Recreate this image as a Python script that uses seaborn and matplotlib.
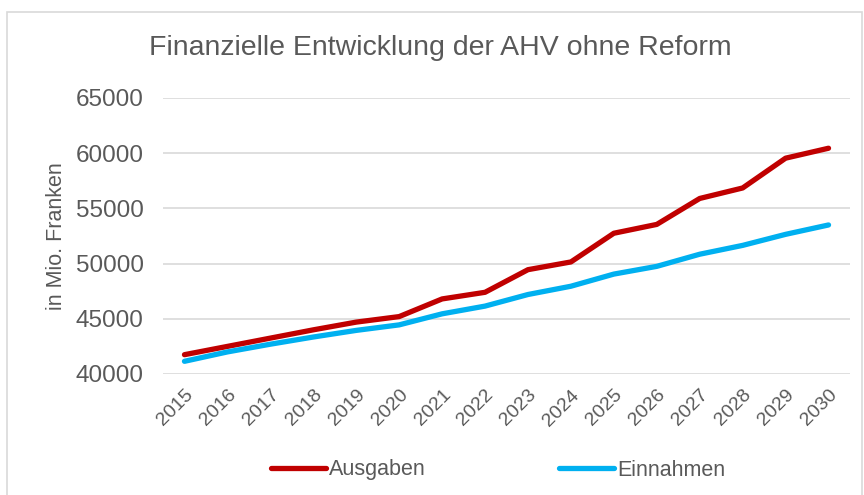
import numpy as np
import pandas as pd
import matplotlib
matplotlib.use("Agg")
import matplotlib.pyplot as plt
from matplotlib.patches import Rectangle
import seaborn as sns

# Data
years = [str(y) for y in range(2015, 2031)]
ausgaben = [41750, 42500, 43250, 44000, 44700, 45200, 46800, 47400,
            49450, 50150, 52750, 53550, 55900, 56850, 59550, 60450]
einnahmen = [41150, 42000, 42700, 43350, 43950, 44450, 45450, 46150,
             47200, 47950, 49050, 49750, 50850, 51650, 52650, 53500]
series_names = ["Ausgaben", "Einnahmen"]
yticks = [40000, 45000, 50000, 55000, 60000, 65000]

df = pd.DataFrame({
    "Jahr": years * 2,
    "Wert": ausgaben + einnahmen,
    "Serie": [series_names[0]] * len(years) + [series_names[1]] * len(years),
})

sns.set_style("white")
plt.rcParams['font.family'] = ['Liberation Sans', 'DejaVu Sans']
grey = "#595959"

fig = plt.figure(figsize=(8.64, 4.95), dpi=100)
ax = fig.add_axes([163 / 864, 1 - 374 / 495, (850 - 163) / 864, (374 - 98) / 495])

# outer chart border
fig.patches.append(Rectangle((7 / 864, -0.05), 855 / 864, 1 - 12 / 495 + 0.05,
                             transform=fig.transFigure, fill=False,
                             edgecolor="#d9d9d9", linewidth=1.2))

sns.lineplot(data=df, x="Jahr", y="Wert", hue="Serie", ax=ax,
             palette={"Ausgaben": "#C00000", "Einnahmen": "#00B0F0"},
             linewidth=3.8, solid_capstyle="round", sort=False, legend=False)

ax.set_xlim(-0.5, len(years) - 0.5)
ax.set_ylim(40000, 65000)
ax.set_yticks(yticks)
ax.yaxis.grid(True, color="#d9d9d9", linewidth=1.2)
ax.set_axisbelow(True)
for s in ax.spines.values():
    s.set_visible(False)
ax.tick_params(axis="y", labelsize=17.5, labelcolor=grey, length=0, pad=14)
ax.tick_params(axis="x", labelsize=14, labelcolor=grey, length=0, pad=9)
plt.setp(ax.get_xticklabels(), rotation=45, ha="right", rotation_mode="anchor")
ax.set_xlabel("")
ax.set_ylabel("in Mio. Franken", fontsize=15.5, color=grey, labelpad=6)

fig.text(440 / 864, 1 - 48 / 495, "Finanzielle Entwicklung der AHV ohne Reform",
         ha="center", va="center", fontsize=20.5, color=grey)

handles = [plt.Line2D([], [], color="#C00000", linewidth=3.8, solid_capstyle="round"),
           plt.Line2D([], [], color="#00B0F0", linewidth=3.8, solid_capstyle="round")]
fig.legend(handles, series_names, loc="center", bbox_to_anchor=(498 / 864, 1 - 470 / 495),
           ncol=2, frameon=False, fontsize=15.5, labelcolor=grey,
           handlelength=2.55, handletextpad=0.15, columnspacing=6.2)

fig.savefig("out.png", dpi=100)
